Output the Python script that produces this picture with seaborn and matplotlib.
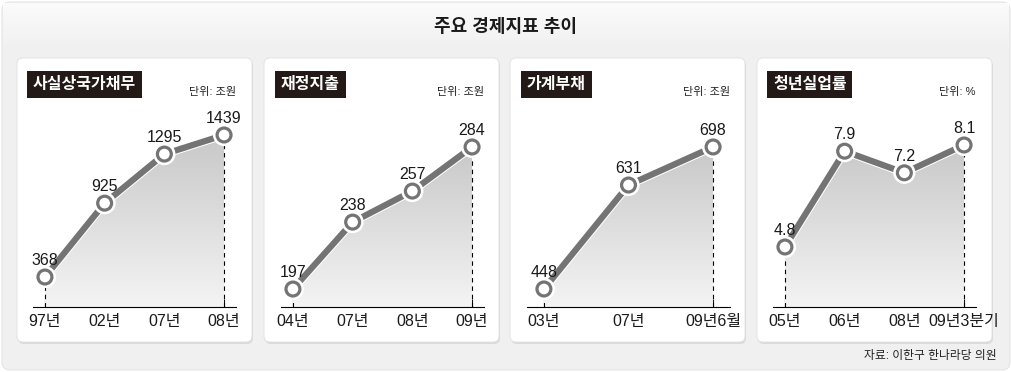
import numpy as np
import pandas as pd
import matplotlib.pyplot as plt
import seaborn as sns
import matplotlib.patheffects as pe
from matplotlib.patches import FancyBboxPatch
from matplotlib.colors import LinearSegmentedColormap

sns.set_style('white')
plt.rcParams['font.family'] = ['Liberation Sans', 'Noto Sans CJK KR', 'DejaVu Sans']
plt.rcParams['axes.unicode_minus'] = False

W, H = 1012, 372

main_title = '주요 경제지표 추이'
source_text = '자료: 이한구 한나라당 의원'

titles = ['사실상국가채무', '재정지출', '가계부채', '청년실업률']
units = ['단위: 조원', '단위: 조원', '단위: 조원', '단위: %']

debt_labels = ['97년', '02년', '07년', '08년']
debt_values = [368, 925, 1295, 1439]
spend_labels = ['04년', '07년', '08년', '09년']
spend_values = [197, 238, 257, 284]
house_labels = ['03년', '07년', '09년6월']
house_values = [448, 631, 698]
youth_labels = ['05년', '06년', '08년', '09년3분기']
youth_values = [4.8, 7.9, 7.2, 8.1]

all_labels = [debt_labels, spend_labels, house_labels, youth_labels]
all_values = [debt_values, spend_values, house_values, youth_values]
value_fmt = ['{:.0f}', '{:.0f}', '{:.0f}', '{:.1f}']

# 패널별 y축 범위 (레이아웃용)
ylims = [(141.8, 2019.6), (186.0, 338.5), (416.3, 854.6), (2.858, 10.915)]
axes_left = [33, 281, 527, 773]
card_left = [17, 264, 510, 757]

line_color = '#747474'
grad_cmap = LinearSegmentedColormap.from_list('g', ['#f4f4f4', '#c8c8c8'])

fig = plt.figure(figsize=(W / 100, H / 100), dpi=100)
fig.patch.set_facecolor('white')

# 배경
bg = fig.add_axes([0, 0, 1, 1])
bg.set_xlim(0, W)
bg.set_ylim(H, 0)
bg.axis('off')
bg.add_patch(FancyBboxPatch((2, 2), W - 4, H - 4,
                            boxstyle='round,pad=0,rounding_size=8',
                            fc='#eff0ef', ec='#e4e5e4', lw=0.8))
head = np.linspace(0, 1, 64).reshape(-1, 1)
bg.imshow(head, extent=[3, W - 3, 50, 3], cmap=LinearSegmentedColormap.from_list(
    'h', ['#fbfbfb', '#eff0ef']), aspect='auto', zorder=1)
bg.set_xlim(0, W)
bg.set_ylim(H, 0)
bg.text(W / 2, 27, main_title, ha='center', va='center', fontsize=13,
        fontweight='bold', color='#1a1a1a', zorder=3)
bg.text(997, 356, source_text, ha='right', va='center', fontsize=8.5,
        color='#222222', zorder=3)

card_w, card_top, card_bot = 235, 58, 342
for i in range(4):
    bg.add_patch(FancyBboxPatch((card_left[i] + 1, card_top + 2), card_w, card_bot - card_top,
                                boxstyle='round,pad=0,rounding_size=6',
                                fc='#d9dad9', ec='none', zorder=2))
    bg.add_patch(FancyBboxPatch((card_left[i], card_top), card_w, card_bot - card_top,
                                boxstyle='round,pad=0,rounding_size=6',
                                fc='white', ec='#e0e0e0', lw=0.6, zorder=3))
    bg.text(axes_left[i], 84.5, titles[i], ha='left', va='center', color='white',
            fontsize=11.5, fontweight='bold', zorder=4,
            bbox=dict(boxstyle='square,pad=0.35', fc='#231916', ec='none'))
    bg.text(axes_left[i] + 203, 92, units[i], ha='right', va='center',
            fontsize=8, color='#222222', zorder=4)

# 패널
for i in range(4):
    labels = all_labels[i]
    values = all_values[i]
    df = pd.DataFrame({'pos': np.arange(len(values)), 'value': values})
    n = len(values)

    ax = fig.add_axes([axes_left[i] / W, 1 - 307 / H, 203 / W, 249 / H])
    ax.patch.set_alpha(0)
    y0, y1 = ylims[i]

    poly = ax.fill_between(df['pos'], df['value'], y0, facecolor='none', edgecolor='none')
    grad = np.linspace(0, 1, 256).reshape(-1, 1)
    im = ax.imshow(grad, extent=[0, n - 1, y0, max(values)], origin='lower',
                   cmap=grad_cmap, aspect='auto', zorder=1)
    im.set_clip_path(poly.get_paths()[0], transform=ax.transData)

    for j in [0, n - 1]:
        ax.plot([j, j], [y0, values[j]], color='black', lw=0.8,
                linestyle=(0, (4, 3.5)), zorder=2)

    sns.lineplot(data=df, x='pos', y='value', ax=ax, color=line_color, lw=4.5,
                 marker='o', markersize=10, markerfacecolor='white',
                 markeredgecolor=line_color, markeredgewidth=2.3, zorder=3,
                 path_effects=[pe.Stroke(linewidth=6, foreground='white'), pe.Normal()])

    for j, v in enumerate(values):
        ax.annotate(value_fmt[i].format(v), (j, v), xytext=(0, 6.5),
                    textcoords='offset points', ha='center', va='bottom',
                    fontsize=11.5, color='#1a1a1a', zorder=5)

    ax.set_xlim(-0.2, n - 1 + 0.2)
    ax.set_ylim(y0, y1)
    ax.set_xticks(df['pos'])
    ax.set_xticklabels(labels)
    ax.set_yticks([])
    ax.set_xlabel('')
    ax.set_ylabel('')
    for s in ['top', 'left', 'right']:
        ax.spines[s].set_visible(False)
    ax.spines['bottom'].set_color('black')
    ax.spines['bottom'].set_linewidth(0.8)
    ax.tick_params(axis='x', direction='in', length=5.8, width=0.8, color='black',
                   pad=5, labelsize=11.5, labelcolor='#1a1a1a', bottom=True)

fig.savefig('out.png', dpi=100, facecolor='white')
